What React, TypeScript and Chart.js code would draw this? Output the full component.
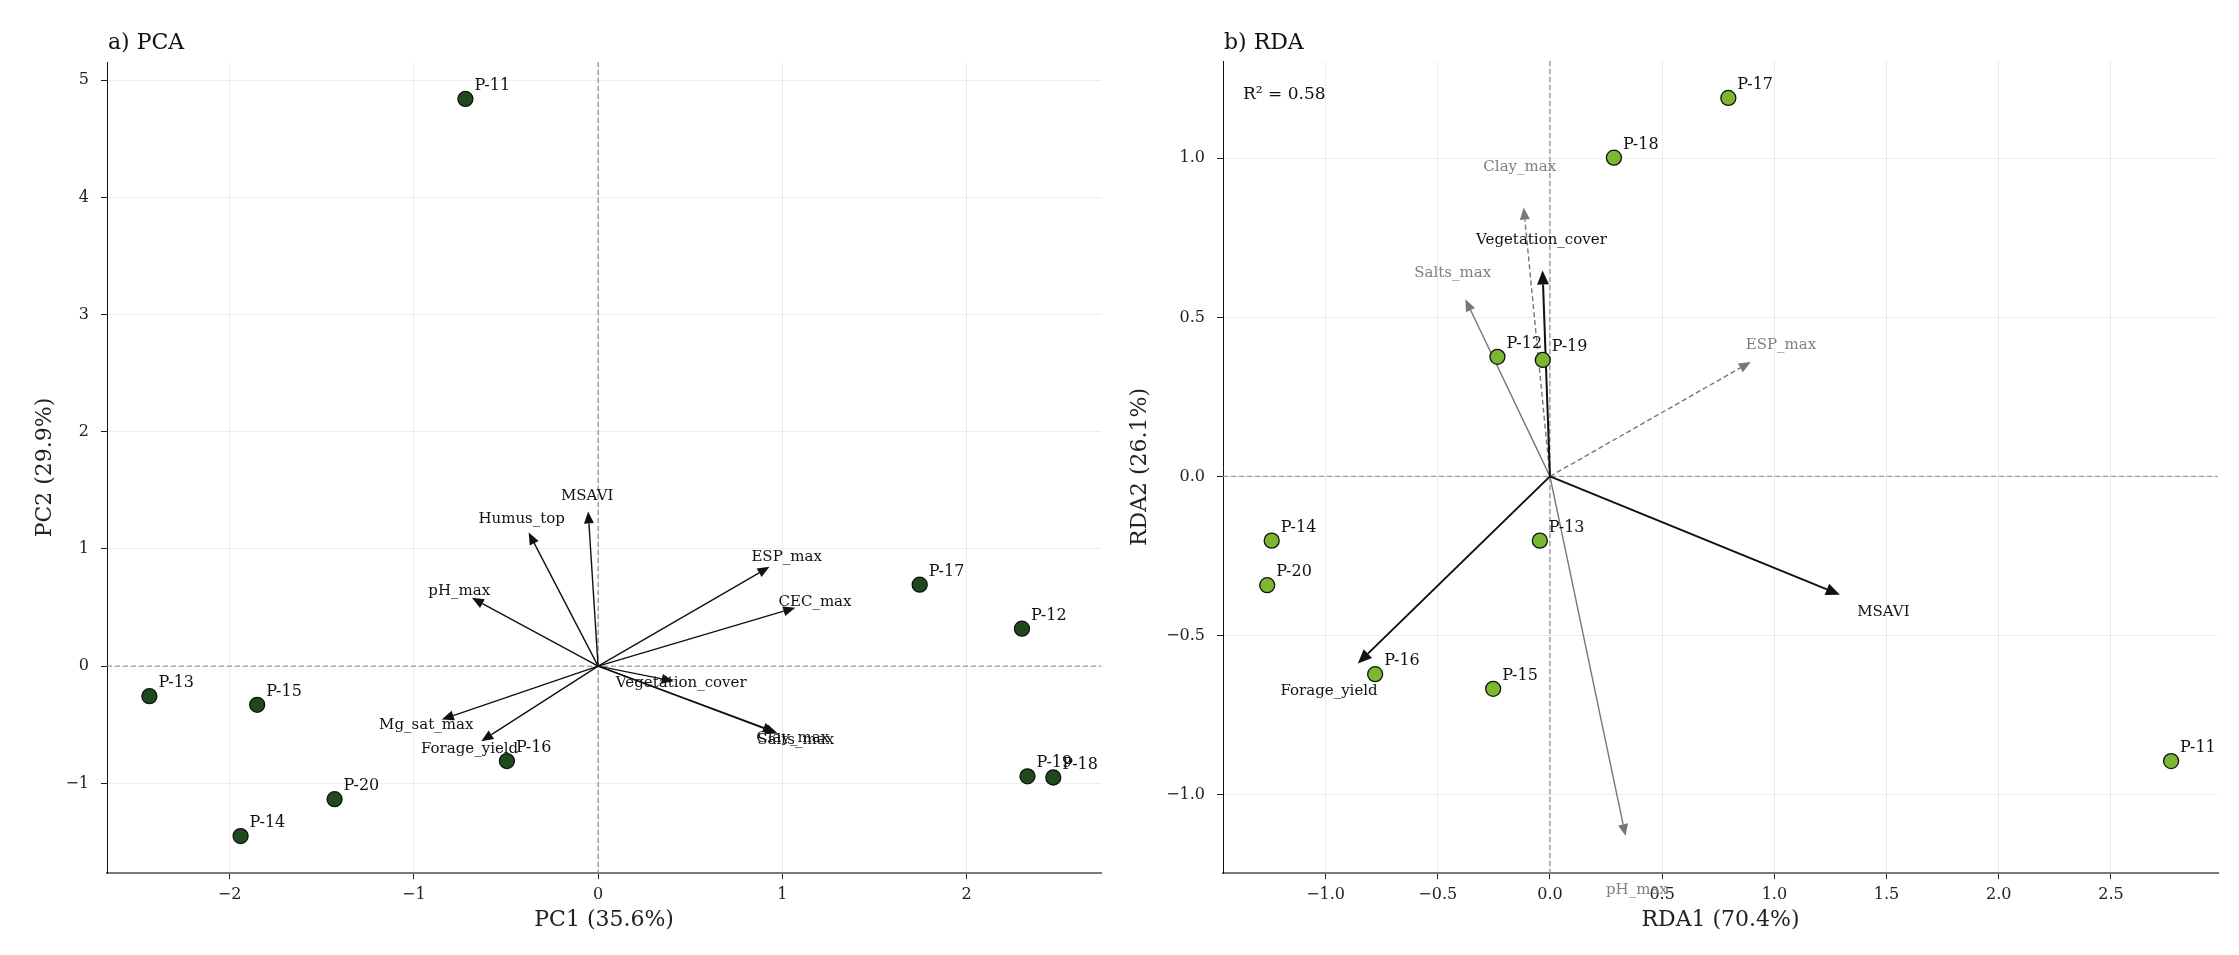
import { useEffect, useRef } from 'react';
import { Chart, registerables } from 'chart.js';

Chart.register(...registerables);

const SERIF = "'DejaVu Serif', 'Liberation Serif', serif";

// ---- a) PCA ----
const pcaSites = ['P-11', 'P-12', 'P-13', 'P-14', 'P-15', 'P-16', 'P-17', 'P-18', 'P-19', 'P-20'];
const pcaPC1 = [-0.72, 2.3, -2.435, -1.94, -1.85, -0.495, 1.745, 2.47, 2.33, -1.43];
const pcaPC2 = [4.84, 0.32, -0.256, -1.45, -0.33, -0.81, 0.695, -0.95, -0.94, -1.135];

const pcaVars = ['MSAVI', 'Humus_top', 'pH_max', 'ESP_max', 'CEC_max', 'Vegetation_cover', 'Clay_max', 'Salts_max', 'Mg_sat_max', 'Forage_yield'];
const pcaLoad1 = [-0.054, -0.377, -0.685, 0.93, 1.07, 0.41, 0.96, 0.975, -0.848, -0.634];
const pcaLoad2 = [1.32, 1.14, 0.583, 0.848, 0.498, -0.128, -0.56, -0.575, -0.455, -0.64];

// ---- b) RDA ----
const rdaSites = ['P-11', 'P-12', 'P-13', 'P-14', 'P-15', 'P-16', 'P-17', 'P-18', 'P-19', 'P-20'];
const rdaAx1 = [2.768, -0.234, -0.045, -1.24, -0.253, -0.779, 0.795, 0.285, -0.032, -1.26];
const rdaAx2 = [-0.895, 0.376, -0.202, -0.202, -0.668, -0.622, 1.19, 1.002, 0.366, -0.342];

// soil variables (grey) and response variables (black)
const rdaVars = ['Clay_max', 'Salts_max', 'ESP_max', 'pH_max', 'Vegetation_cover', 'MSAVI', 'Forage_yield'];
const rdaLoad1 = [-0.117, -0.377, 0.895, 0.337, -0.033, 1.292, -0.856];
const rdaLoad2 = [0.845, 0.557, 0.36, -1.131, 0.647, -0.372, -0.588];
const rdaVarKind = ['soil-dashed', 'soil', 'soil-dashed', 'soil', 'response', 'response', 'response'];

const rdaR2 = '0.58';

type ArrowStyle = { color: string; width: number; dash: number[]; head: number; headW: number; labelColor: string; labelSize: number };

type Panel = {
  title: string;
  xTitle: string;
  yTitle: string;
  sites: string[];
  sx: number[];
  sy: number[];
  vars: string[];
  vx: number[];
  vy: number[];
  styleOf: (i: number) => ArrowStyle;
  labelScale: number;
  fill: string;
  xMin: number; xMax: number; yMin: number; yMax: number;
  step: number;
  decimals: number;
  yAxisWidth: number;
  padRight: number;
  padTop: number;
  yTitlePad: number;
  note?: string;
};

const fmt = (v: number, d: number) => {
  const a = Math.abs(v);
  const s = a.toFixed(d);
  return v < -1e-9 ? '\u2212' + s : s;
};

function drawArrow(ctx: CanvasRenderingContext2D, x0: number, y0: number, x1: number, y1: number, st: ArrowStyle) {
  const ang = Math.atan2(y1 - y0, x1 - x0);
  const bx = x1 - Math.cos(ang) * st.head;
  const by = y1 - Math.sin(ang) * st.head;
  ctx.save();
  ctx.strokeStyle = st.color;
  ctx.lineWidth = st.width;
  ctx.setLineDash(st.dash);
  ctx.beginPath();
  ctx.moveTo(x0, y0);
  ctx.lineTo(bx, by);
  ctx.stroke();
  ctx.setLineDash([]);
  ctx.fillStyle = st.color;
  ctx.beginPath();
  ctx.moveTo(x1, y1);
  ctx.lineTo(bx + Math.sin(ang) * st.headW, by - Math.cos(ang) * st.headW);
  ctx.lineTo(bx - Math.sin(ang) * st.headW, by + Math.cos(ang) * st.headW);
  ctx.closePath();
  ctx.fill();
  ctx.restore();
}

function biplotPlugin(p: Panel) {
  return {
    id: 'biplot',
    beforeDatasetsDraw(chart: any) {
      const { ctx, chartArea: a, scales } = chart;
      const xs = scales.x;
      const ys = scales.y;
      const ox = xs.getPixelForValue(0);
      const oy = ys.getPixelForValue(0);
      ctx.save();
      ctx.strokeStyle = '#9a9a9a';
      ctx.lineWidth = 1.2;
      ctx.setLineDash([5, 3]);
      ctx.beginPath();
      ctx.moveTo(a.left, oy);
      ctx.lineTo(a.right, oy);
      ctx.stroke();
      ctx.strokeStyle = '#8a8a8a';
      ctx.beginPath();
      ctx.moveTo(ox, a.top);
      ctx.lineTo(ox, a.bottom);
      ctx.stroke();
      ctx.restore();
      p.vars.forEach((_, i) => {
        drawArrow(ctx, ox, oy, xs.getPixelForValue(p.vx[i]), ys.getPixelForValue(p.vy[i]), p.styleOf(i));
      });
    },
    afterDatasetsDraw(chart: any) {
      const { ctx, scales } = chart;
      const xs = scales.x;
      const ys = scales.y;
      ctx.save();
      ctx.textAlign = 'center';
      ctx.textBaseline = 'middle';
      p.vars.forEach((name, i) => {
        const st = p.styleOf(i);
        ctx.font = `${st.labelSize}px ${SERIF}`;
        ctx.fillStyle = st.labelColor;
        ctx.fillText(name, xs.getPixelForValue(p.vx[i] * p.labelScale), ys.getPixelForValue(p.vy[i] * p.labelScale));
      });
      const meta = chart.getDatasetMeta(0);
      ctx.font = `16px ${SERIF}`;
      ctx.fillStyle = '#111';
      ctx.textAlign = 'left';
      p.sites.forEach((name, i) => {
        const el = meta.data[i];
        ctx.fillText(name, el.x + 9, el.y - 13);
      });
      ctx.restore();
    },
    afterDraw(chart: any) {
      const { ctx, chartArea: a } = chart;
      ctx.save();
      ctx.fillStyle = '#111';
      ctx.textAlign = 'left';
      ctx.textBaseline = 'middle';
      ctx.font = `22px ${SERIF}`;
      ctx.fillText(p.title, a.left + 1, 43);
      if (p.note) {
        ctx.font = `17px ${SERIF}`;
        ctx.fillText(p.note, a.left + 20, a.top + 34);
      }
      ctx.restore();
    },
  };
}

function makeChart(canvas: HTMLCanvasElement, p: Panel) {
  const tickFont = { family: SERIF, size: 16 };
  const titleFont = { family: SERIF, size: 22 };
  return new Chart(canvas, {
    type: 'scatter',
    data: {
      datasets: [
        {
          data: p.sites.map((_, i) => ({ x: p.sx[i], y: p.sy[i] })),
          pointRadius: 7.5,
          pointHoverRadius: 7.5,
          pointBackgroundColor: p.fill,
          pointBorderColor: '#111',
          pointBorderWidth: 1.3,
        },
      ],
    },
    options: {
      animation: false,
      responsive: false,
      maintainAspectRatio: false,
      events: [],
      layout: { padding: { left: 0, right: p.padRight, top: p.padTop, bottom: 0 } },
      plugins: { legend: { display: false }, tooltip: { enabled: false } },
      scales: {
        x: {
          type: 'linear',
          min: p.xMin,
          max: p.xMax,
          afterFit: (s: any) => { s.height = 82; },
          ticks: { stepSize: p.step, includeBounds: false, font: tickFont, color: '#222', padding: 6, callback: (v: any) => fmt(Number(v), p.decimals) },
          grid: { color: 'rgba(0,0,0,0.07)', lineWidth: 1, tickColor: '#222', tickLength: 6, tickWidth: 1 },
          border: { display: true, color: '#7a7a7a', width: 2 },
          title: { display: true, text: p.xTitle, font: titleFont, color: '#222', padding: { top: 0, bottom: 22 } },
        },
        y: {
          type: 'linear',
          min: p.yMin,
          max: p.yMax,
          afterFit: (s: any) => { s.width = p.yAxisWidth; },
          ticks: { stepSize: p.step, includeBounds: false, font: tickFont, color: '#222', padding: 12, callback: (v: any) => fmt(Number(v), p.decimals) },
          grid: { color: 'rgba(0,0,0,0.07)', lineWidth: 1, tickColor: '#222', tickLength: 6, tickWidth: 1 },
          border: { display: true, color: '#111', width: 1 },
          title: { display: true, text: p.yTitle, font: titleFont, color: '#222', padding: { top: p.yTitlePad, bottom: 0 } },
        },
      },
    } as any,
    plugins: [biplotPlugin(p) as any],
  });
}

const pcaPanel: Panel = {
  title: 'a) PCA',
  xTitle: 'PC1 (35.6%)',
  yTitle: 'PC2 (29.9%)',
  sites: pcaSites,
  sx: pcaPC1,
  sy: pcaPC2,
  vars: pcaVars,
  vx: pcaLoad1,
  vy: pcaLoad2,
  styleOf: () => ({ color: '#111', width: 1.4, dash: [], head: 12, headW: 5, labelColor: '#111', labelSize: 15 }),
  labelScale: 1.1,
  fill: '#1f4a1d',
  xMin: -2.665, xMax: 2.73, yMin: -1.765, yMax: 5.155,
  step: 1,
  decimals: 0,
  yAxisWidth: 107,
  padRight: 6,
  padTop: 62,
  yTitlePad: 32,
};

const rdaPanel: Panel = {
  title: 'b) RDA',
  xTitle: 'RDA1 (70.4%)',
  yTitle: 'RDA2 (26.1%)',
  sites: rdaSites,
  sx: rdaAx1,
  sy: rdaAx2,
  vars: rdaVars,
  vx: rdaLoad1,
  vy: rdaLoad2,
  styleOf: (i: number) => {
    const k = rdaVarKind[i];
    if (k === 'response') return { color: '#111', width: 2, dash: [], head: 14, headW: 6, labelColor: '#111', labelSize: 15 };
    return { color: '#777', width: 1.4, dash: k === 'soil-dashed' ? [5, 3] : [], head: 12, headW: 5, labelColor: '#808080', labelSize: 15 };
  },
  labelScale: 1.15,
  fill: '#7cb82f',
  xMin: -1.457, xMax: 2.977, yMin: -1.247, yMax: 1.306,
  step: 0.5,
  decimals: 1,
  yAxisWidth: 113,
  padRight: 21,
  padTop: 61,
  yTitlePad: 17,
  note: 'R\u00b2 = ' + rdaR2,
};

export default function App() {
  const leftRef = useRef<HTMLCanvasElement | null>(null);
  const rightRef = useRef<HTMLCanvasElement | null>(null);

  useEffect(() => {
    const charts: Chart[] = [];
    if (leftRef.current) charts.push(makeChart(leftRef.current, pcaPanel));
    if (rightRef.current) charts.push(makeChart(rightRef.current, rdaPanel));
    return () => charts.forEach((c) => c.destroy());
  }, []);

  return (
    <div style={{ position: 'absolute', left: 0, top: 0, width: 2239, height: 955, background: '#fff' }}>
      <canvas ref={leftRef} width={1110} height={955} style={{ position: 'absolute', left: 0, top: 0, width: 1110, height: 955 }} />
      <canvas ref={rightRef} width={1129} height={955} style={{ position: 'absolute', left: 1110, top: 0, width: 1129, height: 955 }} />
    </div>
  );
}
